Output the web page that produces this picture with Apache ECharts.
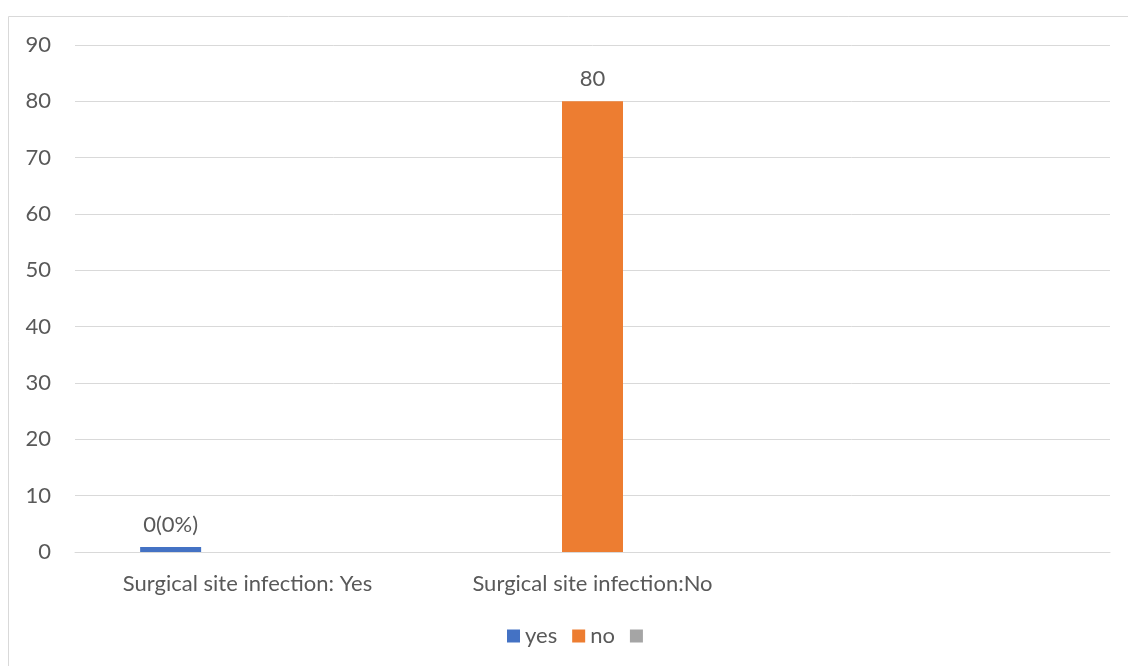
<!DOCTYPE html>
<html>
<head>
<meta charset="utf-8">
<style>
  html, body { margin: 0; padding: 0; background: #ffffff; }
  #chart { width: 1128px; height: 666px; }
</style>
<script src="https://cdn.jsdelivr.net/npm/echarts@6/dist/echarts.min.js"></script>
</head>
<body>
<div id="chart"></div>
<script>
// Categories along the x axis (third slot is an empty category)
const categories = ['Surgical site infection: Yes', 'Surgical site infection:No', ''];
// Series values per category
const yesValues = [0, null, null];
const noValues = [null, 80, null];
const blankValues = [null, null, null];
// Value axis ticks
const yMin = 0;
const yMax = 90;
const yStep = 10;

const total = yesValues.concat(noValues).reduce((s, v) => s + (v || 0), 0);
const FONT = 'Lato';
const FS = 22;
const TEXT = '#595959';
const LINE = '#D9D9D9';

const chart = echarts.init(document.getElementById('chart'), null, { renderer: 'canvas' });

chart.setOption({
  animation: false,
  backgroundColor: '#ffffff',
  textStyle: { fontFamily: FONT, color: TEXT },
  graphic: [{
    type: 'rect',
    silent: true,
    shape: { x: 8.5, y: 16.5, width: 1200, height: 700 },
    style: { fill: 'none', stroke: LINE, lineWidth: 1 }
  }],
  grid: { left: 75, right: 18, top: 45, bottom: 114, containLabel: false },
  legend: {
    bottom: 14,
    left: 502,
    itemWidth: 13,
    itemHeight: 13,
    itemGap: 15,
    icon: 'rect',
    textStyle: { fontFamily: FONT, fontSize: FS, color: TEXT },
    data: ['yes', 'no', ' ']
  },
  xAxis: {
    type: 'category',
    data: categories,
    axisLine: { show: true, lineStyle: { color: LINE, width: 1 } },
    axisTick: { show: false },
    axisLabel: { fontFamily: FONT, fontSize: FS, color: TEXT, margin: 21, interval: 0 }
  },
  yAxis: {
    type: 'value',
    min: yMin,
    max: yMax,
    interval: yStep,
    axisLine: { show: false },
    axisTick: { show: false },
    splitLine: { lineStyle: { color: LINE, width: 1 } },
    axisLabel: { fontFamily: FONT, fontSize: FS, color: TEXT, margin: 24 }
  },
  series: [
    {
      name: 'yes',
      type: 'bar',
      data: yesValues,
      barWidth: 61,
      barGap: '26%',
      barMinHeight: 5,
      itemStyle: { color: '#4472C4' },
      label: {
        show: true,
        position: 'top',
        distance: 11,
        fontFamily: FONT,
        fontSize: FS,
        color: TEXT,
        formatter: p => p.value + '(' + Math.round(p.value / total * 100) + '%)'
      }
    },
    {
      name: 'no',
      type: 'bar',
      data: noValues,
      barWidth: 61,
      barGap: '26%',
      itemStyle: { color: '#ED7D31' },
      label: {
        show: true,
        position: 'top',
        distance: 11,
        fontFamily: FONT,
        fontSize: FS,
        color: TEXT
      }
    },
    {
      name: ' ',
      type: 'bar',
      data: blankValues,
      barWidth: 61,
      barGap: '26%',
      itemStyle: { color: '#A5A5A5' }
    }
  ]
});
</script>
</body>
</html>
